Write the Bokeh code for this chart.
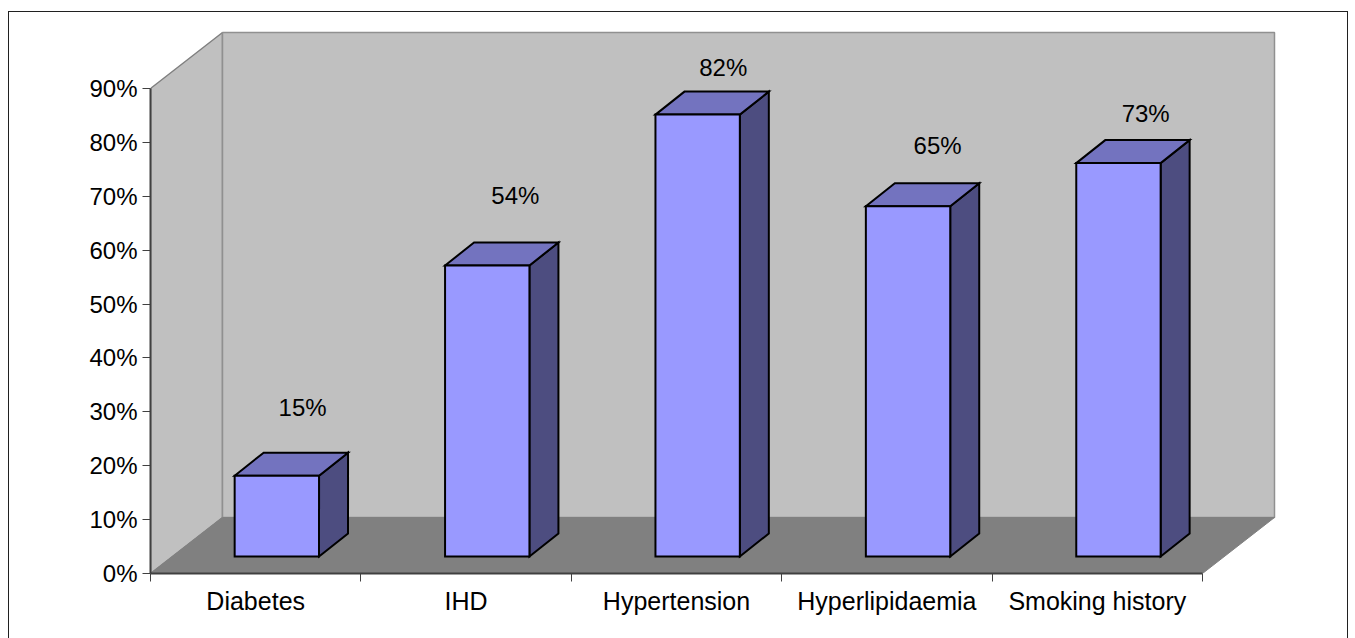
from bokeh.plotting import figure
from bokeh.models import FixedTicker, PrintfTickFormatter, Range1d, InlineStyleSheet
from bokeh.core.properties import value as fixed
from bokeh.embed import file_html
from bokeh.resources import INLINE

categories = ["Diabetes", "IHD", "Hypertension", "Hyperlipidaemia", "Smoking history"]
values = [15, 54, 82, 65, 73]
labels = ["15%", "54%", "82%", "65%", "73%"]
label_x = [0.723, 1.734, 2.722, 3.741, 4.730]
label_y = [30.8, 70.1, 93.9, 79.4, 85.4]
y_ticks = [0, 10, 20, 30, 40, 50, 60, 70, 80, 90]

FONT = "Liberation Sans"
PX_X = 210.4          # pixels per category
PX_Y = 5.389          # pixels per percent
WALL_DX = 72 / PX_X
WALL_DY = 56 / PX_Y
BAR_DX = 29 / PX_X
BAR_DY = 23 / PX_Y
BAR_LEFT = 0.400
BAR_W = 0.401
BAR_BASE = 17 / PX_Y
N = len(categories)
TOP = 90

W, H = 1349, 630
left, right_edge, top, bottom = 150, 1277, 30, 573   # frame edges in canvas pixels

p = figure(width=W, height=H, output_backend="svg", toolbar_location=None,
           x_range=Range1d(0, (right_edge - left) / PX_X),
           y_range=Range1d(0, (bottom - top) / PX_Y),
           min_border_left=left, min_border_right=W - right_edge,
           min_border_top=top, min_border_bottom=H - bottom)
p.grid.visible = False
p.outline_line_color = None
p.background_fill_color = "white"
p.border_fill_color = "white"

# outer border, drawn over the canvas; its lower edge lies below the page
p.stylesheets = [InlineStyleSheet(css=""":host::after {
  content: ""; position: absolute; left: 8px; top: 11px; width: 1340px; height: 700px;
  border: 1.5px solid #202020; box-sizing: border-box; pointer-events: none; }
:host { overflow: visible; }""")]

# walls and floor
p.patch([0, WALL_DX, WALL_DX, 0], [0, WALL_DY, TOP + WALL_DY, TOP],
        fill_color="#C0C0C0", line_color="#808080", line_width=1.5)
p.patch([WALL_DX, N + WALL_DX, N + WALL_DX, WALL_DX],
        [WALL_DY, WALL_DY, TOP + WALL_DY, TOP + WALL_DY],
        fill_color="#C0C0C0", line_color="#909090", line_width=1.5)
p.patch([0, WALL_DX, N + WALL_DX, N], [0, WALL_DY, WALL_DY, 0],
        fill_color="#808080", line_color="#808080", line_width=1)

# bars
for i, v in enumerate(values):
    x0, x1 = i + BAR_LEFT, i + BAR_LEFT + BAR_W
    y0, y1 = BAR_BASE, BAR_BASE + v
    p.patch([x1, x1 + BAR_DX, x1 + BAR_DX, x1], [y0, y0 + BAR_DY, y1 + BAR_DY, y1],
            fill_color="#4D4D80", line_color="black", line_width=2, line_join="miter")
    p.patch([x0, x0 + BAR_DX, x1 + BAR_DX, x1], [y1, y1 + BAR_DY, y1 + BAR_DY, y1],
            fill_color="#7373BF", line_color="black", line_width=2, line_join="miter")
    p.patch([x0, x1, x1, x0], [y0, y0, y1, y1],
            fill_color="#9999FF", line_color="black", line_width=2, line_join="miter")

p.text(label_x, label_y, text=labels, text_font=fixed(FONT), text_font_size="24px",
       text_color="black", text_align="center", text_baseline="middle")

# axes
ya = p.yaxis[0]
ya.ticker = FixedTicker(ticks=y_ticks)
ya.formatter = PrintfTickFormatter(format="%d%%")
ya.bounds = (0, TOP)
ya.axis_line_color = "#404040"
ya.axis_line_width = 2
ya.major_tick_line_color = "#404040"
ya.major_tick_in = 0
ya.major_tick_out = 8
ya.minor_tick_line_color = None
ya.major_label_standoff = 5
ya.major_label_text_font = FONT
ya.major_label_text_font_size = "24px"
ya.major_label_text_color = "black"

xa = p.xaxis[0]
xa.ticker = FixedTicker(ticks=[i + 0.5 for i in range(N)], minor_ticks=list(range(N + 1)))
xa.major_label_overrides = {i + 0.5: c for i, c in enumerate(categories)}
xa.bounds = (0, N)
xa.axis_line_color = "#404040"
xa.axis_line_width = 2
xa.major_tick_line_color = None
xa.major_tick_in = 0
xa.major_tick_out = 8
xa.minor_tick_line_color = "#404040"
xa.minor_tick_in = 0
xa.minor_tick_out = 8
xa.major_label_standoff = 5
xa.major_label_text_font = FONT
xa.major_label_text_font_size = "25px"
xa.major_label_text_color = "black"

open("out.html", "w").write(file_html(p, INLINE))
